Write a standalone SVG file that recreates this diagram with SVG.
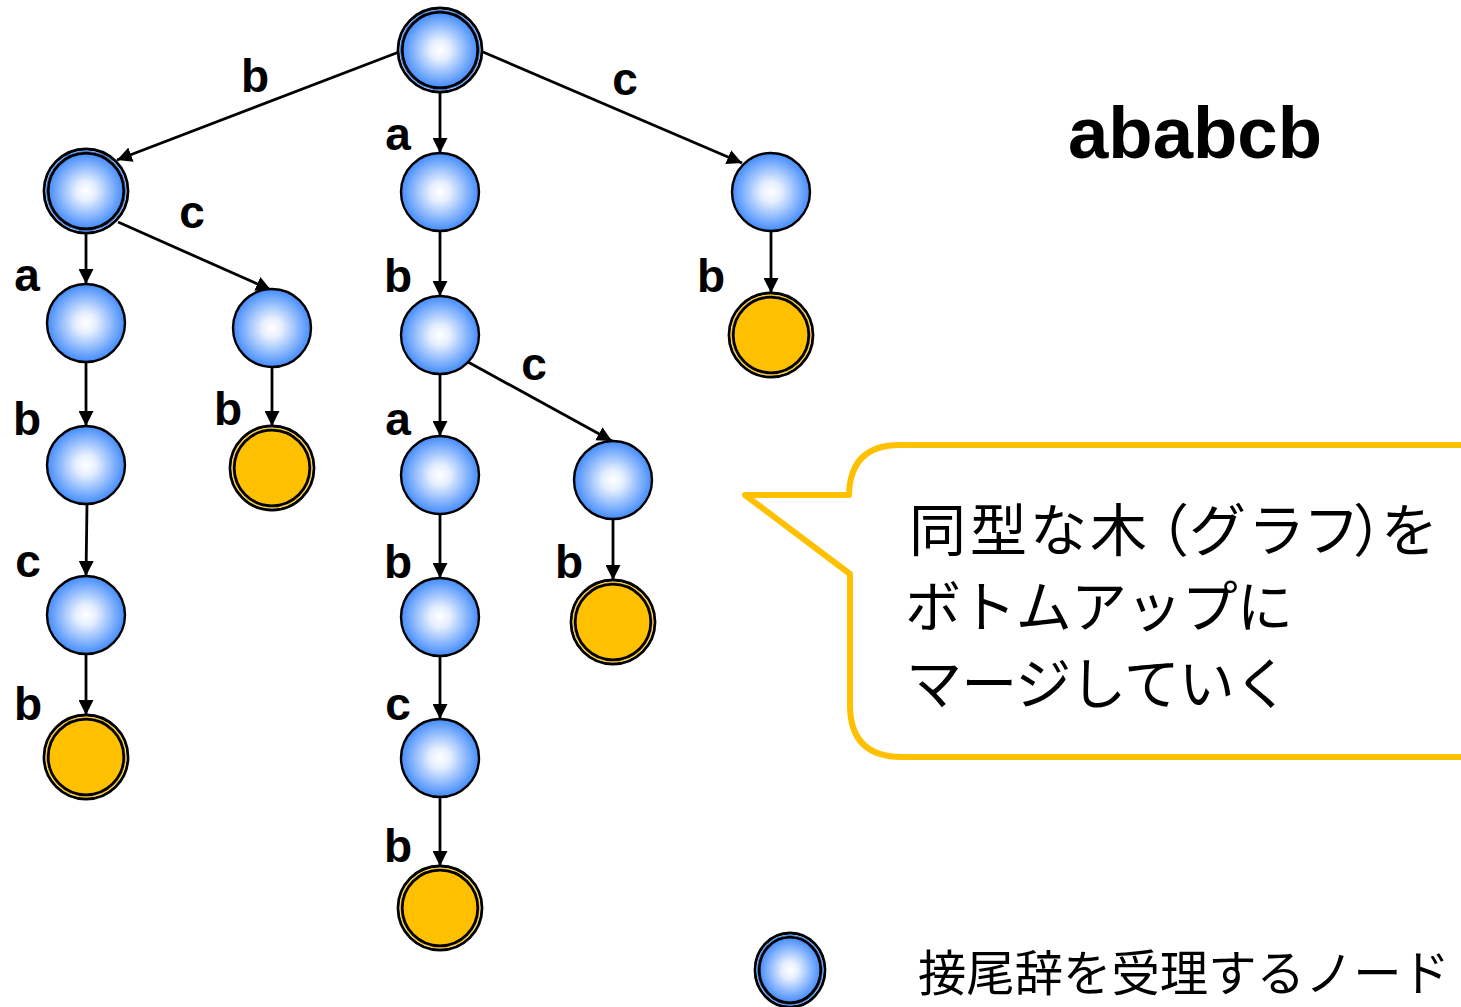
<svg xmlns="http://www.w3.org/2000/svg" width="1461" height="1007" viewBox="0 0 1461 1007">
  <defs>
    <radialGradient id="blueFill" cx="50%" cy="50%" r="52%" fx="50%" fy="50%">
      <stop offset="0" stop-color="#ffffff"/>
      <stop offset="0.25" stop-color="#e6efff"/>
      <stop offset="1" stop-color="#3a86fb"/>
    </radialGradient>
    <marker id="arrow" viewBox="0 0 15 15" refX="15" refY="7.5" markerWidth="15" markerHeight="15" markerUnits="userSpaceOnUse" orient="auto">
      <path d="M0,0 L15,7.5 L0,15 z" fill="#000"/>
    </marker>
  </defs>
  <style>
    .node { fill: url(#blueFill); stroke: #000; stroke-width: 2.4; }
    .ring-out { fill: #fff; stroke: #000; stroke-width: 2.8; }
    .ring-blue { fill: none; stroke: #3a86fb; stroke-width: 1.2; }
    .ring-orange { fill: none; stroke: #ffc000; stroke-width: 1.2; }
    .inner-blue { fill: url(#blueFill); stroke: #000; stroke-width: 2.8; }
    .inner-orange { fill: #ffc000; stroke: #000; stroke-width: 2.8; }
    .edge { stroke: #000; stroke-width: 2.8; fill: none; marker-end: url(#arrow); }
    .lbl { font-family: "Liberation Sans", Arial, sans-serif; font-weight: bold; font-size: 46px; fill: #000; text-anchor: middle; }
    .jp { font-family: "Noto Sans CJK JP", "Noto Sans", sans-serif; fill: #000; }
    .title { font-family: "Liberation Sans", Arial, sans-serif; font-weight: bold; font-size: 72px; fill: #000; }
    .callout { fill: #fff; stroke: #ffc000; stroke-width: 6; stroke-linejoin: round; }
  </style>

  <!-- connectors -->
  <g id="edges">
    <line class="edge" x1="399" y1="52" x2="117" y2="160"/>
    <line class="edge" x1="440" y1="92" x2="440" y2="153"/>
    <line class="edge" x1="483" y1="52" x2="742" y2="163"/>
    <line class="edge" x1="86" y1="233" x2="86" y2="284"/>
    <line class="edge" x1="118" y1="222" x2="271" y2="290"/>
    <line class="edge" x1="86" y1="362" x2="86" y2="426"/>
    <line class="edge" x1="87" y1="504" x2="86" y2="576"/>
    <line class="edge" x1="86" y1="654" x2="86" y2="715"/>
    <line class="edge" x1="272" y1="367" x2="272" y2="426"/>
    <line class="edge" x1="440" y1="231" x2="440" y2="296"/>
    <line class="edge" x1="440" y1="374" x2="440" y2="436"/>
    <line class="edge" x1="468" y1="362" x2="612" y2="441"/>
    <line class="edge" x1="440" y1="514" x2="440" y2="578"/>
    <line class="edge" x1="440" y1="656" x2="440" y2="719"/>
    <line class="edge" x1="440" y1="797" x2="440" y2="866"/>
    <line class="edge" x1="613" y1="519" x2="613" y2="580"/>
    <line class="edge" x1="771" y1="231" x2="771" y2="293"/>
  </g>

  <!-- edge labels -->
  <g id="edge-labels">
    <text class="lbl" x="255" y="92">b</text>
    <text class="lbl" x="625" y="95">c</text>
    <text class="lbl" x="398" y="150">a</text>
    <text class="lbl" x="192" y="228">c</text>
    <text class="lbl" x="27" y="291">a</text>
    <text class="lbl" x="27" y="435">b</text>
    <text class="lbl" x="28" y="577">c</text>
    <text class="lbl" x="28" y="720">b</text>
    <text class="lbl" x="228" y="425">b</text>
    <text class="lbl" x="398" y="292">b</text>
    <text class="lbl" x="534" y="380">c</text>
    <text class="lbl" x="398" y="435">a</text>
    <text class="lbl" x="398" y="578">b</text>
    <text class="lbl" x="398" y="720">c</text>
    <text class="lbl" x="398" y="862">b</text>
    <text class="lbl" x="569" y="578">b</text>
    <text class="lbl" x="711" y="292">b</text>
  </g>

  <!-- nodes -->
  <g id="n-root">
    <circle class="ring-out" cx="440" cy="50" r="42"/>
    <circle class="ring-blue" cx="440" cy="50" r="39.6"/>
    <circle class="inner-blue" cx="440" cy="50" r="37.8"/>
  </g>
  <g id="n-b">
    <circle class="ring-out" cx="86" cy="191" r="42"/>
    <circle class="ring-blue" cx="86" cy="191" r="39.6"/>
    <circle class="inner-blue" cx="86" cy="191" r="37.8"/>
  </g>
  <g id="n-a"><circle class="node" cx="440" cy="192" r="39"/></g>
  <g id="n-c"><circle class="node" cx="771" cy="192" r="39"/></g>
  <g id="n-ba"><circle class="node" cx="86" cy="323" r="39"/></g>
  <g id="n-bc"><circle class="node" cx="272" cy="328" r="39"/></g>
  <g id="n-bab"><circle class="node" cx="86" cy="465" r="39"/></g>
  <g id="n-bcb">
    <circle class="ring-out" cx="272" cy="468" r="42"/>
    <circle class="ring-orange" cx="272" cy="468" r="39.6"/>
    <circle class="inner-orange" cx="272" cy="468" r="37.8"/>
  </g>
  <g id="n-babc"><circle class="node" cx="86" cy="615" r="39"/></g>
  <g id="n-babcb">
    <circle class="ring-out" cx="86" cy="757" r="42"/>
    <circle class="ring-orange" cx="86" cy="757" r="39.6"/>
    <circle class="inner-orange" cx="86" cy="757" r="37.8"/>
  </g>
  <g id="n-ab"><circle class="node" cx="440" cy="335" r="39"/></g>
  <g id="n-aba"><circle class="node" cx="440" cy="475" r="39"/></g>
  <g id="n-abc"><circle class="node" cx="613" cy="480" r="39"/></g>
  <g id="n-abab"><circle class="node" cx="440" cy="617" r="39"/></g>
  <g id="n-abcb">
    <circle class="ring-out" cx="613" cy="622" r="42"/>
    <circle class="ring-orange" cx="613" cy="622" r="39.6"/>
    <circle class="inner-orange" cx="613" cy="622" r="37.8"/>
  </g>
  <g id="n-ababc"><circle class="node" cx="440" cy="758" r="39"/></g>
  <g id="n-ababcb">
    <circle class="ring-out" cx="440" cy="908" r="42"/>
    <circle class="ring-orange" cx="440" cy="908" r="39.6"/>
    <circle class="inner-orange" cx="440" cy="908" r="37.8"/>
  </g>
  <g id="n-cb">
    <circle class="ring-out" cx="771" cy="335" r="42"/>
    <circle class="ring-orange" cx="771" cy="335" r="39.6"/>
    <circle class="inner-orange" cx="771" cy="335" r="37.8"/>
  </g>

  <!-- input string -->
  <g id="title">
    <text class="title" x="1068" y="158" textLength="254" lengthAdjust="spacingAndGlyphs">ababcb</text>
  </g>

  <!-- speech bubble -->
  <g id="callout">
    <path class="callout" d="M1475,445 L900,445 Q850,445 849,495 L745,495 L850,574 L850,705 Q850,757 902,757 L1475,757 Z"/>
    <text class="jp" font-size="57" y="551" x="909 970 1030 1090 1132 1189 1248 1303 1353 1381">同型な木（グラフ）を</text>
    <text class="jp" font-size="56" x="905" y="627" textLength="388" lengthAdjust="spacing">ボトムアップに</text>
    <text class="jp" font-size="56" x="906" y="704" textLength="384" lengthAdjust="spacing">マージしていく</text>
  </g>

  <!-- legend -->
  <g id="legend">
    <ellipse class="ring-out" cx="790" cy="970" rx="35" ry="37"/>
    <ellipse class="ring-blue" cx="790" cy="970" rx="32.6" ry="34.6"/>
    <ellipse class="inner-blue" cx="790" cy="970" rx="30.8" ry="32.8"/>
    <text class="jp" font-size="49" x="918" y="991" textLength="532" lengthAdjust="spacingAndGlyphs">接尾辞を受理するノード</text>
  </g>
</svg>
